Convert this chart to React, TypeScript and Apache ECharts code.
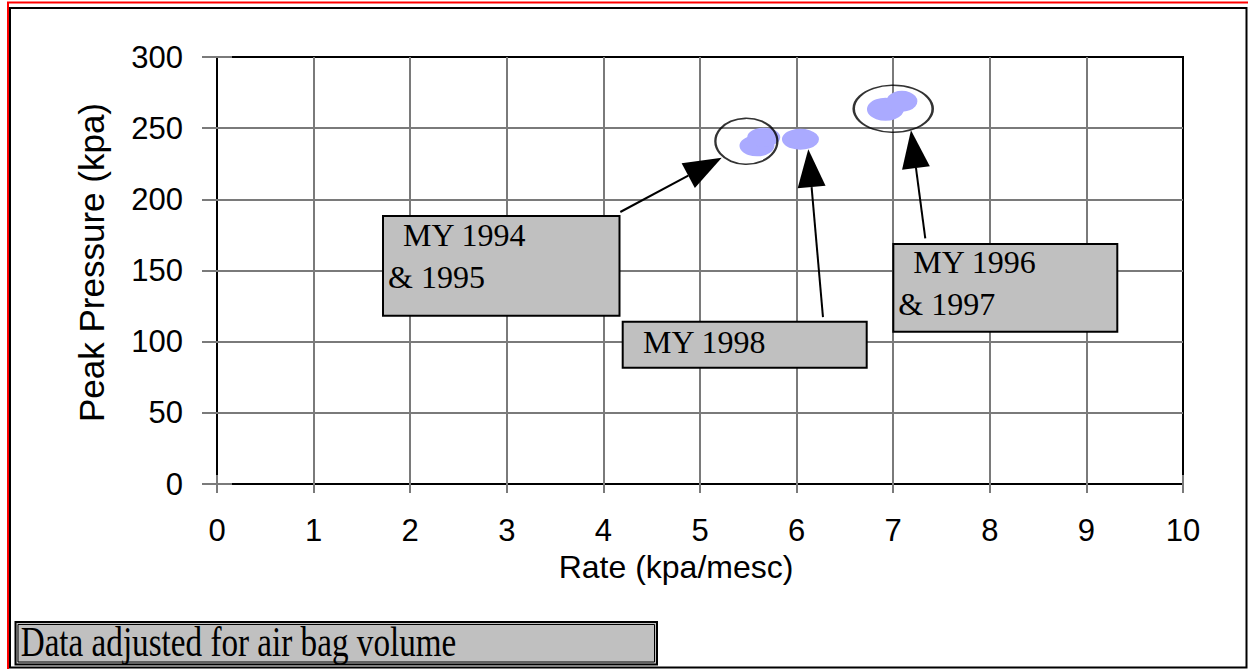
import React, { useEffect, useRef } from "react";
import * as echarts from "echarts";

// ---- data ----
const xTicks = [0, 1, 2, 3, 4, 5, 6, 7, 8, 9, 10];
const yTicks = [0, 50, 100, 150, 200, 250, 300];
const rateValues = [5.59, 5.66, 6.04, 6.92, 7.09];
const pressureValues = [237.6, 243.6, 242.2, 263.3, 268.9];
const circleRate = [5.48, 7.0];
const circlePressure = [240.8, 263.6];
const arrowTailX = [4.175, 6.273, 7.332];
const arrowTailY = [191.1, 117.3, 172.6];
const arrowTipX = [5.225, 6.121, 7.184];
const arrowTipY = [229.3, 235.2, 248.5];
const xTitle = "Rate (kpa/mesc)";
const yTitle = "Peak Pressure (kpa)";
const noteText = "Data adjusted for air bag volume";

// ---- styles ----
const blobSizes = [[35, 21], [33, 19], [37, 21], [37, 23], [31, 21]];
const circleSizes = [[62, 46], [79, 47]];
const HEAD_LEN = 38;
const HEAD_W = 28;
const SANS = "'Liberation Sans', Arial, sans-serif";
const SERIF = "'Liberation Serif', 'Times New Roman', serif";
const GRID_GRAY = "#7A7A7A";

function boxGroup(x: number, y: number, w: number, h: number, lines: { t: string; x: number; y: number }[]) {
  return {
    type: "group",
    z: 20,
    children: [
      { type: "rect", z: 20, shape: { x, y, width: w, height: h }, style: { fill: "#C0C0C0", stroke: "#000", lineWidth: 2 } },
      ...lines.map((l) => ({
        type: "text",
        z: 21,
        x: l.x,
        y: l.y,
        style: { text: l.t, fill: "#000", font: `32px ${SERIF}`, verticalAlign: "middle", align: "left" },
      })),
    ],
  };
}

export default function App() {
  const ref = useRef<HTMLDivElement>(null);
  useEffect(() => {
    if (!ref.current) return;
    const chart = echarts.init(ref.current, null, { renderer: "svg" });
    const option: any = {
      animation: false,
      backgroundColor: "#fff",
      grid: { left: 217, top: 57, width: 966, height: 427, show: true, borderColor: "#000", borderWidth: 2, backgroundColor: "#fff" },
      xAxis: [
        {
          type: "value", min: xTicks[0], max: xTicks[xTicks.length - 1], interval: 1, position: "bottom",
          axisLine: { show: true, lineStyle: { color: "#000", width: 2 } },
          axisTick: { show: true, inside: false, length: 9, lineStyle: { color: GRID_GRAY, width: 2 } },
          axisLabel: { margin: 31, fontSize: 31, color: "#000", fontFamily: SANS },
          splitLine: { show: true, showMinLine: false, showMaxLine: false, lineStyle: { color: GRID_GRAY, width: 2 } },
          name: xTitle, nameLocation: "middle", nameGap: 62,
          nameTextStyle: { fontSize: 32, color: "#000", fontFamily: SANS, padding: [0, 48, 0, 0] },
        },
        {
          type: "value", min: xTicks[0], max: xTicks[xTicks.length - 1], interval: 1, position: "bottom",
          axisLine: { show: false }, axisLabel: { show: false }, splitLine: { show: false },
          axisTick: { show: true, inside: true, length: 9, lineStyle: { color: GRID_GRAY, width: 2 } },
        },
      ],
      yAxis: [
        {
          type: "value", min: yTicks[0], max: yTicks[yTicks.length - 1], interval: 50, position: "left",
          axisLine: { show: true, lineStyle: { color: "#000", width: 2 } },
          axisTick: { show: true, inside: false, length: 15, lineStyle: { color: GRID_GRAY, width: 2 } },
          axisLabel: { margin: 34, fontSize: 31, color: "#000", fontFamily: SANS },
          splitLine: { show: true, showMinLine: false, showMaxLine: false, lineStyle: { color: GRID_GRAY, width: 2 } },
          name: yTitle, nameLocation: "middle", nameGap: 108, nameRotate: 90,
          nameTextStyle: { fontSize: 35, color: "#000", fontFamily: SANS, padding: [0, 0, 0, 16] },
        },
        {
          type: "value", min: yTicks[0], max: yTicks[yTicks.length - 1], interval: 50, position: "left",
          axisLine: { show: false }, axisLabel: { show: false }, splitLine: { show: false },
          axisTick: { show: true, inside: true, length: 15, lineStyle: { color: GRID_GRAY, width: 2 } },
        },
      ],
      series: [
        {
          type: "scatter",
          xAxisIndex: 0, yAxisIndex: 0,
          symbol: "circle",
          data: rateValues.map((x, i) => ({ value: [x, pressureValues[i]], symbolSize: blobSizes[i] })),
          itemStyle: { color: "#AAAAFF", opacity: 1 },
          z: 3,
          silent: true,
        },
        {
          type: "scatter",
          xAxisIndex: 0, yAxisIndex: 0,
          symbol: "circle",
          data: circleRate.map((x, i) => ({ value: [x, circlePressure[i]], symbolSize: circleSizes[i] })),
          itemStyle: { color: "rgba(0,0,0,0)", borderColor: "#000", borderWidth: 2 },
          z: 4,
          silent: true,
        },
        {
          type: "custom",
          xAxisIndex: 0, yAxisIndex: 0,
          clip: false,
          z: 5,
          silent: true,
          encode: { x: [0, 2], y: [1, 3] },
          data: arrowTailX.map((x, i) => [x, arrowTailY[i], arrowTipX[i], arrowTipY[i]]),
          renderItem: (params: any, api: any) => {
            const tail = api.coord([api.value(0), api.value(1)]);
            const tip = api.coord([api.value(2), api.value(3)]);
            const dx = tip[0] - tail[0];
            const dy = tip[1] - tail[1];
            const len = Math.hypot(dx, dy);
            const ux = dx / len;
            const uy = dy / len;
            const bx = tip[0] - ux * HEAD_LEN;
            const by = tip[1] - uy * HEAD_LEN;
            const px = (-uy * HEAD_W) / 2;
            const py = (ux * HEAD_W) / 2;
            return {
              type: "group",
              children: [
                { type: "line", shape: { x1: tail[0], y1: tail[1], x2: bx, y2: by }, style: { stroke: "#000", lineWidth: 2 } },
                { type: "polygon", shape: { points: [[tip[0], tip[1]], [bx + px, by + py], [bx - px, by - py]] }, style: { fill: "#000" } },
              ],
            };
          },
        },
      ],
      graphic: [
        { type: "line", z: 30, shape: { x1: 7, y1: 2.5, x2: 1248, y2: 2.5 }, style: { stroke: "#FF0000", lineWidth: 2 } },
        { type: "line", z: 30, shape: { x1: 8, y1: 2, x2: 8, y2: 669 }, style: { stroke: "#FF0000", lineWidth: 2 } },
        { type: "rect", z: 30, shape: { x: 10, y: 8, width: 1236.5, height: 659.5 }, style: { fill: "none", stroke: "#000", lineWidth: 2 } },
        boxGroup(383, 216, 236.5, 99.7, [
          { t: "MY 1994", x: 403, y: 235 },
          { t: "& 1995", x: 388, y: 276.5 },
        ]),
        boxGroup(622.7, 321.7, 244, 46, [{ t: "MY 1998", x: 643, y: 342 }]),
        boxGroup(893.3, 244, 224, 87.7, [
          { t: "MY 1996", x: 913.3, y: 262 },
          { t: "& 1997", x: 898.3, y: 304 },
        ]),
        {
          type: "group",
          z: 20,
          children: [
            { type: "rect", z: 20, shape: { x: 15.5, y: 622, width: 641.5, height: 42.5 }, style: { fill: "#C0C0C0", stroke: "#000", lineWidth: 2 } },
            { type: "rect", z: 20, shape: { x: 18, y: 624.5, width: 636.5, height: 37.5 }, style: { fill: "none", stroke: "#000", lineWidth: 1 } },
            {
              type: "text", z: 21, x: 20.7, y: 642, scaleX: 0.79,
              style: { text: noteText, fill: "#000", font: `42px ${SERIF}`, verticalAlign: "middle", align: "left" },
            },
          ],
        },
      ],
    };
    chart.setOption(option);
    return () => chart.dispose();
  }, []);
  return <div ref={ref} style={{ position: "fixed", left: 0, top: 0, width: 1248, height: 669 }} />;
}
